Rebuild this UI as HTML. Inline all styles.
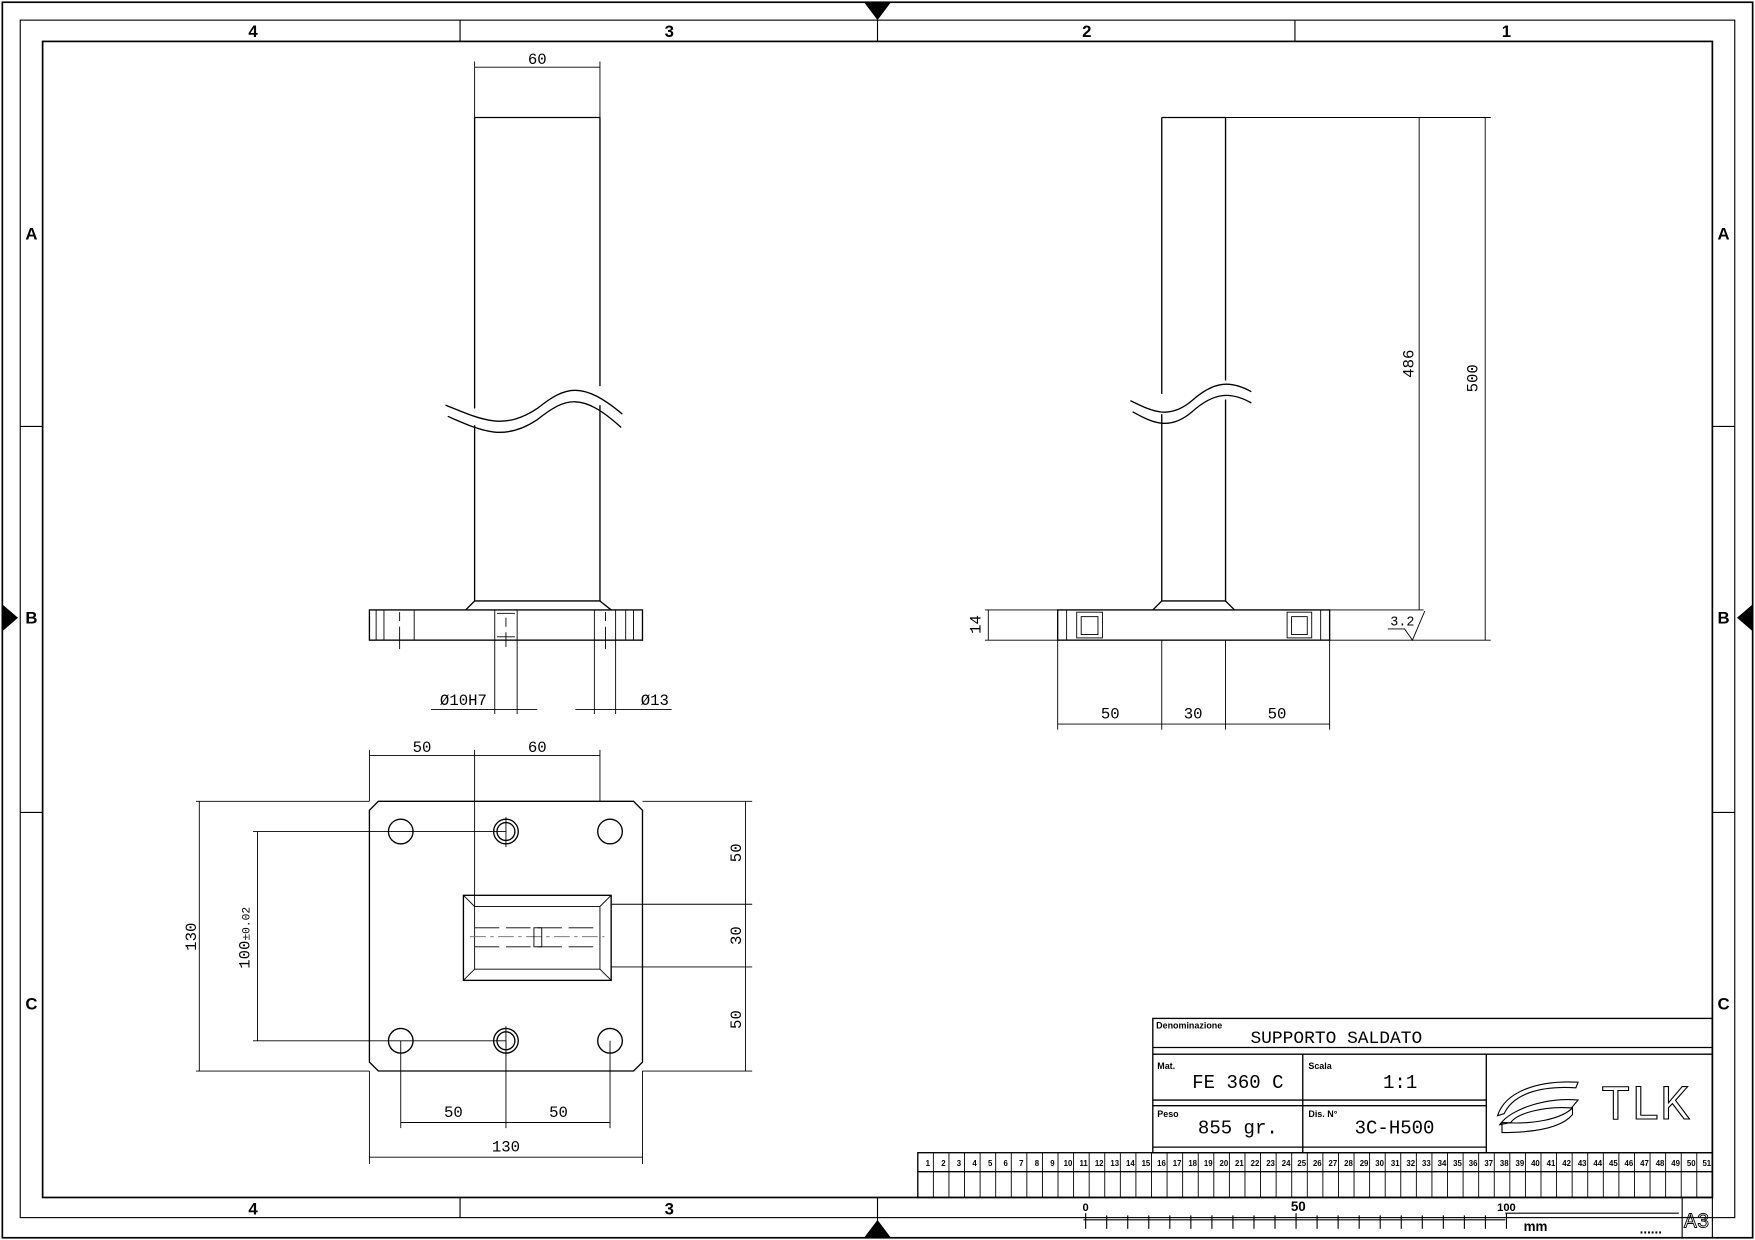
<!DOCTYPE html>
<html><head><meta charset="utf-8"><style>
html,body{margin:0;padding:0;background:#fff;}
svg{display:block;}
text{font-family:"Liberation Mono",monospace;fill:#000;}
.s{font-family:"Liberation Sans",sans-serif;font-weight:bold;}
</style></head><body>
<svg width="1755" height="1240" viewBox="0 0 1568 1108" xmlns="http://www.w3.org/2000/svg" stroke="#000" fill="none" stroke-width="1">
<rect x="2" y="2" width="1564" height="1104" stroke-width="1.5"/>
<rect x="18" y="18" width="1532" height="1070"/>
<rect x="38" y="37" width="1492" height="1033" stroke-width="1.5"/>
<line x1="411" y1="18" x2="411" y2="37"/><line x1="784" y1="18" x2="784" y2="37"/><line x1="1157" y1="18" x2="1157" y2="37"/>
<line x1="411" y1="1070" x2="411" y2="1088"/><line x1="784" y1="1070" x2="784" y2="1106"/>
<line x1="18" y1="381" x2="38" y2="381"/><line x1="18" y1="726" x2="38" y2="726"/>
<line x1="1530" y1="381" x2="1550" y2="381"/><line x1="1530" y1="726" x2="1550" y2="726"/>
<g fill="#000" stroke="none">
<polygon points="772,2 784,2 784,18"/><polygon points="796,2 784,2 784,18"/>
<polygon points="772,1106 784,1106 784,1090"/><polygon points="796,1106 784,1106 784,1090"/>
<polygon points="2,540 2,564 16,552"/><polygon points="1566,540 1566,564 1552,552"/>
</g>
<g stroke="none" font-size="15" text-anchor="middle">
<text x="226" y="33" class="s">4</text><text x="598" y="33" class="s">3</text><text x="971" y="33" class="s">2</text><text x="1346" y="33" class="s">1</text>
<text x="226" y="1085" class="s">4</text><text x="598" y="1085" class="s">3</text>
<text x="28" y="214" class="s">A</text><text x="28" y="557" class="s">B</text><text x="28" y="902" class="s">C</text>
<text x="1540" y="214" class="s">A</text><text x="1540" y="557" class="s">B</text><text x="1540" y="902" class="s">C</text>
</g>

<g stroke-width="1.2">
<line x1="424" y1="105" x2="536" y2="105"/>
<line x1="424" y1="105" x2="424" y2="365"/><line x1="424" y1="380" x2="424" y2="537"/>
<line x1="536" y1="105" x2="536" y2="345"/><line x1="536" y1="362" x2="536" y2="537"/>
<line x1="424" y1="537" x2="536" y2="537"/>
<path d="M398,362 C430,375 450,385 480,365 C505,345 520,340 556,370"/>
<path d="M400,372 C430,385 450,395 480,375 C505,355 520,350 555,382"/>
<polyline points="416,545 424,537"/><polyline points="546,545 536,537"/>
<rect x="330" y="545" width="244" height="27"/>
</g>
<g stroke-width="0.8">
<line x1="336" y1="545" x2="336" y2="572"/><line x1="343" y1="545" x2="343" y2="572"/><line x1="370" y1="545" x2="370" y2="572"/>
<line x1="357" y1="547" x2="357" y2="555"/><line x1="357" y1="560" x2="357" y2="580"/>
<line x1="566" y1="545" x2="566" y2="572"/><line x1="559" y1="545" x2="559" y2="572"/>
<line x1="531" y1="545" x2="531" y2="638"/><line x1="550" y1="545" x2="550" y2="638"/>
<line x1="541" y1="547" x2="541" y2="555"/><line x1="541" y1="560" x2="541" y2="580"/>
<line x1="442" y1="545" x2="442" y2="638"/><line x1="462" y1="545" x2="462" y2="638"/>
<line x1="444" y1="548" x2="460" y2="548"/><line x1="444" y1="569" x2="460" y2="569"/>
<line x1="452" y1="552" x2="452" y2="560"/><line x1="452" y1="565" x2="452" y2="578"/>
<line x1="385" y1="634" x2="480" y2="634"/><line x1="514" y1="634" x2="600" y2="634"/>
<line x1="424" y1="55" x2="424" y2="105"/><line x1="536" y1="55" x2="536" y2="105"/>
<line x1="424" y1="60" x2="536" y2="60"/>
</g>
<g stroke="none" font-size="14" text-anchor="middle">
<text x="480" y="57">60</text>
<text x="414" y="630">Ø10H7</text><text x="585" y="630">Ø13</text>
</g>

<g stroke-width="1.2">
<line x1="1038" y1="105" x2="1095" y2="105"/>
<line x1="1038" y1="105" x2="1038" y2="352"/><line x1="1038" y1="370" x2="1038" y2="537"/>
<line x1="1095" y1="105" x2="1095" y2="340"/><line x1="1095" y1="357" x2="1095" y2="537"/>
<line x1="1038" y1="537" x2="1095" y2="537"/>
<path d="M1010,358 C1030,368 1045,375 1065,358 C1085,340 1100,340 1118,350"/>
<path d="M1012,368 C1030,378 1045,385 1065,368 C1085,350 1100,350 1118,360"/>
<line x1="1030" y1="545" x2="1038" y2="537"/><line x1="1103" y1="545" x2="1095" y2="537"/>
<rect x="945" y="545" width="243" height="27"/>
</g>
<g stroke-width="0.8">
<rect x="962" y="547" width="23" height="23"/><rect x="966" y="551" width="15" height="16"/>
<rect x="1150" y="547" width="22" height="23"/><rect x="1154" y="551" width="14" height="16"/>
<line x1="953" y1="545" x2="953" y2="572"/><line x1="1180" y1="545" x2="1180" y2="572"/>
<line x1="1095" y1="105" x2="1332" y2="105"/><line x1="1188" y1="572" x2="1332" y2="572"/>
<line x1="1188" y1="545" x2="1272" y2="545"/>
<line x1="1268" y1="105" x2="1268" y2="545"/><line x1="1327" y1="105" x2="1327" y2="572"/>
<line x1="880" y1="545" x2="945" y2="545"/><line x1="880" y1="572" x2="945" y2="572"/>
<line x1="883" y1="545" x2="883" y2="572"/>
<line x1="945" y1="572" x2="945" y2="652"/><line x1="1038" y1="572" x2="1038" y2="652"/>
<line x1="1095" y1="572" x2="1095" y2="652"/><line x1="1188" y1="572" x2="1188" y2="652"/>
<line x1="945" y1="647" x2="1188" y2="647"/>
<polyline points="1240,562 1255,562 1262,572 1273,546"/>
</g>
<g stroke="none" font-size="14" text-anchor="middle">
<text x="1263" y="325" transform="rotate(-90 1263 325)">486</text>
<text x="1320" y="338" transform="rotate(-90 1320 338)">500</text>
<text x="876" y="558" transform="rotate(-90 876 558)">14</text>
<text x="1253" y="559" font-size="12">3.2</text>
<text x="992" y="642">50</text><text x="1066" y="642">30</text><text x="1141" y="642">50</text>
</g>

<g stroke-width="1.2">
<polygon points="338,716 566,716 574,724 574,949 566,957 338,957 330,949 330,724"/>
<circle cx="358" cy="743" r="11"/><circle cx="452" cy="743" r="11"/><circle cx="452" cy="743" r="8"/><circle cx="545" cy="743" r="11"/>
<circle cx="358" cy="930" r="11"/><circle cx="452" cy="930" r="11"/><circle cx="452" cy="930" r="8"/><circle cx="545" cy="930" r="11"/>
<rect x="414" y="800" width="132" height="76"/>
<rect x="424" y="810" width="112" height="56" stroke-width="0.8"/>
</g>
<g stroke-width="0.8">
<line x1="414" y1="800" x2="424" y2="810"/><line x1="546" y1="800" x2="536" y2="810"/>
<line x1="414" y1="876" x2="424" y2="866"/><line x1="546" y1="876" x2="536" y2="866"/>
<line x1="424" y1="829" x2="536" y2="829" stroke-dasharray="22,6"/>
<line x1="424" y1="846" x2="536" y2="846" stroke-dasharray="22,6"/>
<line x1="420" y1="837" x2="540" y2="837" stroke-dasharray="14,4,3,4" stroke="#666"/>
<rect x="477" y="829" width="7" height="17"/>
<line x1="424" y1="670" x2="424" y2="810"/><line x1="330" y1="670" x2="330" y2="716"/><line x1="536" y1="670" x2="536" y2="716"/>
<line x1="330" y1="675" x2="536" y2="675"/>
<line x1="175" y1="716" x2="330" y2="716"/><line x1="175" y1="957" x2="330" y2="957"/>
<line x1="178" y1="716" x2="178" y2="957"/>
<line x1="226" y1="743" x2="452" y2="743"/><line x1="226" y1="930" x2="452" y2="930"/>
<line x1="230" y1="743" x2="230" y2="930"/>
<line x1="574" y1="716" x2="672" y2="716"/><line x1="574" y1="957" x2="672" y2="957"/>
<line x1="546" y1="808" x2="672" y2="808"/><line x1="546" y1="864" x2="672" y2="864"/>
<line x1="666" y1="716" x2="666" y2="957"/>
<line x1="358" y1="930" x2="358" y2="1008"/><line x1="452" y1="930" x2="452" y2="1008"/><line x1="545" y1="930" x2="545" y2="1008"/>
<line x1="358" y1="1003" x2="545" y2="1003"/>
<line x1="330" y1="957" x2="330" y2="1040"/><line x1="574" y1="957" x2="574" y2="1040"/>
<line x1="330" y1="1034" x2="574" y2="1034"/>
<line x1="452" y1="730" x2="452" y2="757"/><line x1="452" y1="917" x2="452" y2="944"/>
</g>
<g stroke="none" font-size="14" text-anchor="middle">
<text x="377" y="672">50</text><text x="480" y="672">60</text>
<text x="175" y="837" transform="rotate(-90 175 837)">130</text>
<text x="223" y="838" transform="rotate(-90 223 838)">100<tspan font-size="10">±0.02</tspan></text>
<text x="662" y="762" transform="rotate(-90 662 762)">50</text>
<text x="662" y="836" transform="rotate(-90 662 836)">30</text>
<text x="662" y="911" transform="rotate(-90 662 911)">50</text>
<text x="405" y="998">50</text><text x="499" y="998">50</text><text x="452" y="1029">130</text>
</g>

<g stroke-width="1.2">
<rect x="1030" y="910" width="500" height="120"/>
<line x1="1030" y1="936" x2="1530" y2="936"/><line x1="1030" y1="942" x2="1530" y2="942"/>
<line x1="1030" y1="983" x2="1328" y2="983"/><line x1="1030" y1="988" x2="1328" y2="988"/>
<line x1="1164" y1="942" x2="1164" y2="1030"/><line x1="1328" y1="942" x2="1328" y2="1030"/>
<line x1="1030" y1="1025" x2="1328" y2="1025"/>
<rect x="820" y="1030" width="710" height="40"/>
<line x1="820" y1="1047" x2="1530" y2="1047"/>
</g>
<g stroke-width="0.8" id="cells"></g>
<g stroke="none">
<text x="1033" y="919" class="s" font-size="8">Denominazione</text>
<text x="1194" y="932" font-size="16" text-anchor="middle">SUPPORTO SALDATO</text>
<text x="1034" y="955" class="s" font-size="8">Mat.</text>
<text x="1106" y="972" font-size="17" text-anchor="middle">FE 360 C</text>
<text x="1169" y="955" class="s" font-size="8">Scala</text>
<text x="1251" y="972" font-size="17" text-anchor="middle">1:1</text>
<text x="1034" y="998" class="s" font-size="8">Peso</text>
<text x="1106" y="1013" font-size="17" text-anchor="middle">855 gr.</text>
<text x="1169" y="998" class="s" font-size="8">Dis. N°</text>
<text x="1246" y="1013" font-size="17" text-anchor="middle">3C-H500</text>
<text x="1470" y="1000" font-family="Liberation Sans" font-size="44" fill="none" stroke="#000" stroke-width="1" text-anchor="middle" style="fill:none">TLK</text>
</g>
<g stroke-width="1">
<path d="M1338,997 C1345,975 1375,965 1410,967 L1408,972 C1375,970 1352,978 1344,995 Z"/>
<path d="M1340,1005 C1350,990 1385,980 1410,983 L1404,990 C1380,988 1355,995 1350,1003 Z"/>
<path d="M1342,1012 L1342,1003 C1370,1005 1395,1000 1405,990 L1405,996 C1395,1008 1370,1012 1342,1012 Z"/>
</g>
<g stroke-width="1">
<line x1="968" y1="1090" x2="1345" y2="1090"/>
<line x1="1345" y1="1084" x2="1500" y2="1084"/>
<rect x="1503" y="1070" width="27" height="36"/>
</g>
<g stroke="none" font-size="10" text-anchor="middle">
<text x="970" y="1082" class="s">0</text><text x="1160" y="1082" class="s" font-size="12">50</text><text x="1346" y="1082" class="s">100</text>
<text x="1372" y="1100" class="s" font-size="12">mm</text>
<text x="1475" y="1102" class="s" font-size="12">......</text>
<text x="1516" y="1097" font-family="Liberation Sans" font-size="19" style="fill:none" stroke="#000" stroke-width="0.8">A3</text>
</g>
<g id="ticks" stroke-width="1"></g>
<g id="nums" stroke="none" font-size="7" text-anchor="middle"></g>
</svg>
<script>
var ns="http://www.w3.org/2000/svg",c=document.getElementById('cells'),n=document.getElementById('nums'),t=document.getElementById('ticks');
var w=710/51;
for(var i=1;i<51;i++){var l=document.createElementNS(ns,'line');var x=820+i*w;l.setAttribute('x1',x);l.setAttribute('x2',x);l.setAttribute('y1',1030);l.setAttribute('y2',1070);c.appendChild(l);}
for(var i=0;i<51;i++){var tx=document.createElementNS(ns,'text');tx.setAttribute('x',820+i*w+w/2+2);tx.setAttribute('y',1042);tx.setAttribute('class','s');tx.textContent=i+1;n.appendChild(tx);}
for(var i=0;i<=20;i++){var x=970+i*18.8;var l=document.createElementNS(ns,'line');l.setAttribute('x1',x);l.setAttribute('x2',x);l.setAttribute('y1',i%10==0?1084:1086);l.setAttribute('y2',1098);t.appendChild(l);}
</script>
</body></html>
